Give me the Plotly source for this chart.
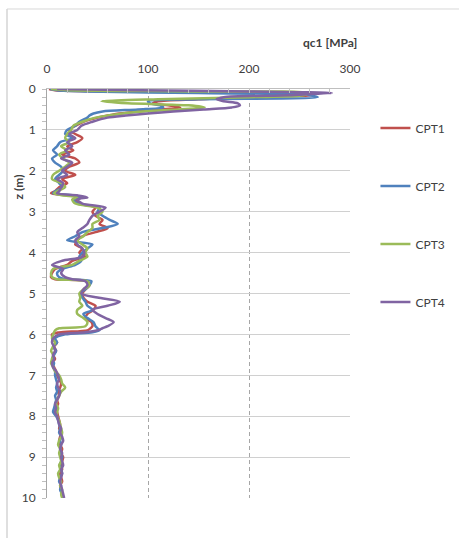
import plotly.graph_objects as go

# Depth below ground level (m), shared by all four soundings
depth = [
    0.00, 0.03, 0.06, 0.10, 0.15, 0.20, 0.25, 0.30, 0.35, 0.40, 0.45, 0.50,
    0.55, 0.60, 0.65, 0.70, 0.80, 0.90,
    1.0, 1.1, 1.2, 1.3, 1.4, 1.5, 1.6, 1.7, 1.8, 1.9,
    2.0, 2.1, 2.2, 2.3, 2.4, 2.5, 2.55, 2.6, 2.65, 2.7, 2.8, 2.9,
    3.0, 3.1, 3.2, 3.3, 3.4, 3.5, 3.6, 3.7, 3.8, 3.9,
    4.0, 4.1, 4.2, 4.3, 4.4, 4.5, 4.6, 4.65, 4.7, 4.8, 4.9,
    5.0, 5.1, 5.2, 5.3, 5.4, 5.5, 5.6, 5.7, 5.8, 5.85, 5.9, 5.95,
    6.0, 6.1, 6.2, 6.3, 6.4, 6.5, 6.6, 6.7, 6.8, 6.9,
    7.0, 7.1, 7.2, 7.3, 7.4, 7.5, 7.6, 7.7, 7.8, 7.9,
    8.0, 8.1, 8.2, 8.3, 8.4, 8.5, 8.6, 8.7, 8.8, 8.9,
    9.0, 9.1, 9.2, 9.3, 9.4, 9.5, 9.6, 9.7, 9.8, 9.9,
    10.0,
]

# Normalised cone resistance qc1 (MPa)
cpt1 = [
    2, 8, 70, 245, 263, 190, 150, 110, 105, 120, 132, 112, 90, 72, 60, 50, 36, 28,
    22, 28, 35, 30, 20, 26, 15, 28, 32, 22,
    18, 28, 15, 20, 12, 8, 4, 20, 36, 28, 32, 48,
    45, 48, 55, 52, 60, 48, 35, 30, 28, 35,
    32, 38, 25, 20, 8, 5, 4, 8, 40, 42, 38,
    35, 36, 40, 48, 46, 40, 38, 44, 45, 43, 40, 12,
    5, 6, 10, 7, 9, 6, 8, 5, 7, 9,
    10, 12, 14, 13, 11, 12, 10, 11, 9, 10,
    11, 12, 13, 12, 14, 13, 12, 13, 15, 14,
    16, 15, 14, 15, 13, 14, 15, 13, 14, 15,
    16,
]
cpt2 = [
    3, 10, 40, 150, 260, 268, 150, 100, 102, 112, 115, 90, 55, 46, 42, 40, 32, 28,
    20, 18, 25, 13, 10, 6, 10, 5, 8, 14,
    16, 12, 8, 12, 15, 8, 6, 25, 32, 26, 30, 52,
    50, 55, 62, 70, 55, 35, 28, 20, 45, 40,
    35, 32, 34, 28, 15, 10, 12, 18, 44, 42, 38,
    33, 35, 38, 40, 45, 36, 40, 46, 48, 50, 52, 45,
    18, 8, 10, 6, 9, 7, 5, 7, 6, 8,
    8, 9, 10, 9, 10, 8, 9, 8, 7, 6,
    9, 11, 12, 13, 12, 14, 13, 14, 13, 14,
    15, 14, 13, 14, 15, 13, 12, 14, 13, 15,
    16,
]
cpt3 = [
    4, 20, 150, 258, 255, 200, 110, 54, 80, 140, 156, 130, 95, 75, 60, 48, 35, 26,
    24, 20, 18, 22, 14, 20, 12, 16, 22, 18,
    12, 6, 5, 14, 18, 10, 7, 15, 30, 25, 28, 50,
    55, 50, 52, 45, 45, 40, 36, 30, 35, 40,
    38, 40, 32, 25, 6, 4, 5, 10, 40, 42, 36,
    32, 33, 32, 35, 30, 30, 36, 40, 38, 12, 8, 7,
    6, 5, 8, 6, 4, 6, 5, 4, 6, 8,
    12, 14, 15, 18, 14, 12, 10, 9, 11, 10,
    10, 12, 13, 14, 15, 14, 12, 11, 13, 12,
    13, 14, 12, 13, 11, 12, 14, 13, 15, 14,
    15,
]
cpt4 = [
    10, 90, 200, 282, 240, 175, 168, 175, 189, 191, 183, 155, 125, 100, 78, 60, 45, 34,
    30, 22, 28, 20, 25, 18, 22, 14, 25, 20,
    15, 20, 10, 16, 14, 12, 10, 30, 40, 30, 35, 58,
    52, 45, 42, 40, 35, 30, 32, 28, 30, 35,
    37, 35, 15, 5, 16, 14, 18, 25, 38, 40, 36,
    34, 50, 72, 60, 45, 50, 58, 66, 60, 55, 50, 38,
    12, 6, 5, 7, 8, 6, 7, 5, 6, 9,
    11, 12, 10, 11, 13, 12, 10, 8, 9, 8,
    10, 11, 12, 14, 13, 15, 16, 14, 13, 15,
    14, 15, 16, 14, 15, 14, 13, 14, 15, 16,
    17,
]

series_names = ["CPT1", "CPT2", "CPT3", "CPT4"]
series_values = [cpt1, cpt2, cpt3, cpt4]
series_colors = ["#c0504d", "#4f81bd", "#9bbb59", "#8064a2"]

x_ticks = [0, 100, 200, 300]
y_ticks = list(range(0, 11))

FONT = "Lato, 'Open Sans', sans-serif"
TXT = "#404040"

fig = go.Figure()
for i, (name, vals, col) in enumerate(zip(series_names, series_values, series_colors)):
    fig.add_trace(go.Scatter(
        x=vals, y=depth, name=name, mode="lines",
        line=dict(color=col, width=2.5, shape="spline", smoothing=0.8),
        legendgroup=name,
    ))

fig.update_layout(
    width=459, height=538,
    margin=dict(l=47, r=109, t=89, b=40, autoexpand=False),
    paper_bgcolor="white", plot_bgcolor="white",
    font=dict(family=FONT, size=12, color=TXT),
    showlegend=True,
    legend=dict(
        x=1.084, y=0.94, xanchor="left", yanchor="top",
        font=dict(family=FONT, size=12, color=TXT),
        tracegroupgap=39, bgcolor="rgba(0,0,0,0)",
        itemwidth=30,
    ),
    xaxis=dict(
        side="top", range=[0, 300], tickvals=x_ticks,
        showgrid=True, gridcolor="#a6a6a6", griddash="4px,3px", gridwidth=1,
        showline=True, linecolor="#bfbfbf", linewidth=1,
        zeroline=False, ticks="inside", ticklen=4, tickcolor="#bfbfbf",
        minor=dict(dtick=20, ticks="inside", ticklen=4, tickcolor="#bfbfbf", showgrid=False),
        ticklabelstandoff=10,
        tickfont=dict(family=FONT, size=12, color=TXT),
    ),
    yaxis=dict(
        range=[10, 0], tickvals=y_ticks,
        showgrid=True, gridcolor="#d0d0d0", gridwidth=1,
        showline=True, linecolor="#a6a6a6", linewidth=1,
        zeroline=False, ticks="outside", ticklen=4, tickcolor="#bfbfbf",
        minor=dict(dtick=0.2, ticks="outside", ticklen=4, tickcolor="#bfbfbf", showgrid=False),
        ticklabelstandoff=4,
        tickfont=dict(family=FONT, size=12, color=TXT),
    ),
    annotations=[
        dict(text="<b>qc1 [MPa]</b>", xref="paper", yref="paper",
             x=0.935, y=1.113, xanchor="center", yanchor="middle",
             showarrow=False, font=dict(family=FONT, size=12, color=TXT)),
        dict(text="<b>z (m)</b>", xref="paper", yref="paper",
             x=-0.095, y=0.76, xanchor="center", yanchor="middle", textangle=-90,
             showarrow=False, font=dict(family=FONT, size=12, color=TXT)),
    ],
    shapes=[
        dict(type="line", xref="paper", yref="paper",
             x0=-0.132, x1=-0.132, y0=1.1956, y1=-0.2, line=dict(color="#bfbfbf", width=1)),
        dict(type="line", xref="paper", yref="paper",
             x0=-0.132, x1=1.5, y0=1.1956, y1=1.1956, line=dict(color="#d9d9d9", width=1)),
    ],
)

fig.write_html("out.html")
